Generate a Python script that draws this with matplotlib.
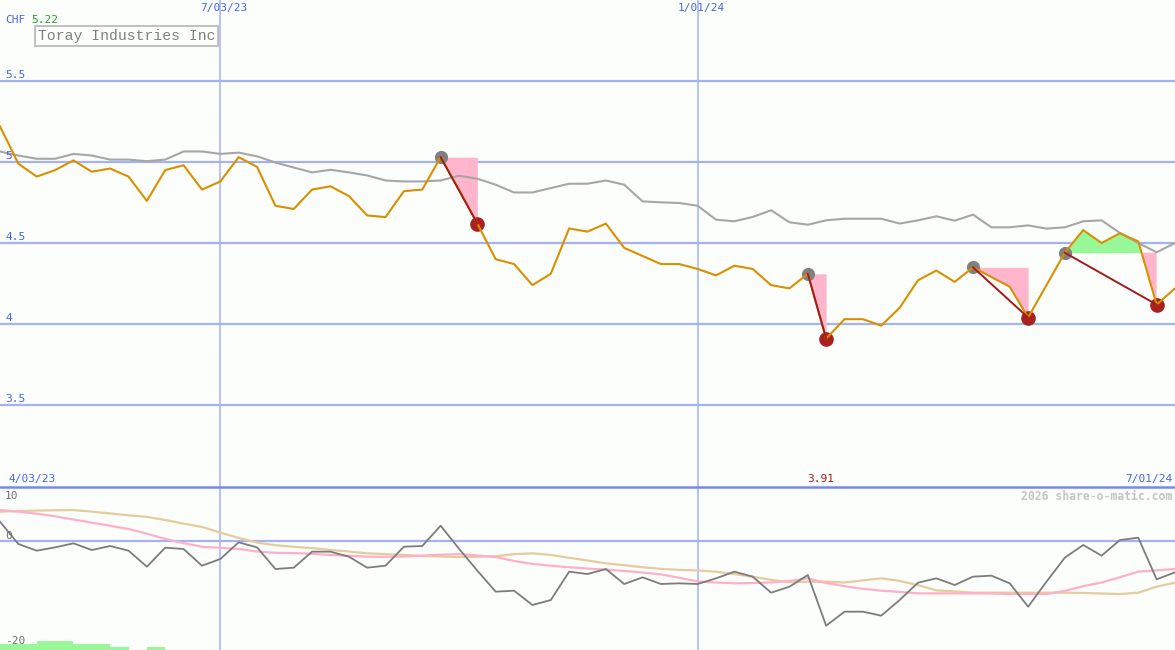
import matplotlib
matplotlib.use("Agg")
import matplotlib.pyplot as plt
from matplotlib.lines import Line2D
import numpy as np
import pandas as pd

W, H = 1175, 650

# weekly closes, Toray Industries (CHF)
dates = pd.date_range("2023-04-10", periods=65, freq="7D")
price = [5.22, 4.99, 4.91, 4.95, 5.01, 4.94, 4.96, 4.91, 4.76, 4.95,
         4.98, 4.83, 4.88, 5.03, 4.97, 4.73, 4.71, 4.83, 4.85, 4.79,
         4.67, 4.66, 4.82, 4.83, 5.03, 4.83, 4.62, 4.40, 4.37, 4.24,
         4.31, 4.59, 4.57, 4.62, 4.47, 4.42, 4.37, 4.37, 4.34, 4.30,
         4.36, 4.34, 4.24, 4.22, 4.31, 3.91, 4.03, 4.03, 3.99, 4.10,
         4.27, 4.33, 4.26, 4.35, 4.29, 4.23, 4.04, 4.24, 4.44, 4.58,
         4.50, 4.56, 4.51, 4.12, 4.22]
avg = [5.065, 5.04, 5.02, 5.02, 5.05, 5.04, 5.015, 5.015, 5.005, 5.015,
       5.065, 5.065, 5.05, 5.058, 5.035, 4.997, 4.966, 4.936, 4.952, 4.936,
       4.917, 4.886, 4.88, 4.88, 4.886, 4.915, 4.897, 4.86, 4.812, 4.812,
       4.839, 4.866, 4.866, 4.886, 4.86, 4.757, 4.751, 4.747, 4.73, 4.644,
       4.634, 4.661, 4.702, 4.628, 4.613, 4.64, 4.65, 4.65, 4.65, 4.62,
       4.64, 4.665, 4.638, 4.675, 4.597, 4.597, 4.609, 4.589, 4.597, 4.634,
       4.64, 4.562, 4.50, 4.443, 4.50]
osc = [3.68, -0.57, -1.84, -1.21, -0.44, -1.71, -0.95, -1.84, -4.89, -1.27,
       -1.52, -4.70, -3.43, -0.25, -1.21, -5.33, -5.08, -2.03, -2.03, -2.98,
       -5.08, -4.70, -1.08, -0.95, 2.92, -1.46, -5.65, -9.65, -9.46, -12.19,
       -11.24, -5.84, -6.29, -5.33, -8.19, -6.92, -8.19, -8.06, -8.19, -7.11,
       -5.84, -6.79, -9.84, -8.70, -6.48, -16.13, -13.46, -13.46, -14.22, -11.24,
       -7.94, -7.11, -8.38, -6.79, -6.60, -8.06, -12.51, -7.75, -3.17, -0.76,
       -2.79, 0.19, 0.63, -7.30, -5.97]
osc_fast = [5.9, 5.6, 5.2, 4.7, 4.1, 3.5, 2.9, 2.3, 1.4, 0.4,
            -0.4, -1.1, -1.3, -1.5, -2.0, -2.25, -2.3, -2.45, -2.65, -2.8,
            -2.98, -3.0, -2.95, -2.8, -2.6, -2.5, -2.75, -3.05, -3.8, -4.35,
            -4.7, -5.0, -5.25, -5.45, -5.7, -6.0, -6.35, -7.0, -7.7, -7.9,
            -8.06, -8.0, -7.9, -7.6, -7.1, -8.0, -8.6, -9.1, -9.45, -9.7,
            -9.97, -9.97, -9.97, -9.97, -10.0, -10.1, -10.1, -10.1, -9.5, -8.6,
            -7.9, -6.9, -5.84, -5.6, -5.33]
osc_slow = [5.6, 5.7, 5.8, 5.85, 5.9, 5.6, 5.25, 4.9, 4.6, 4.0,
            3.3, 2.7, 1.6, 0.6, -0.3, -0.8, -1.1, -1.35, -1.7, -2.0,
            -2.35, -2.5, -2.65, -2.85, -2.95, -3.05, -3.0, -2.9, -2.5, -2.35,
            -2.65, -3.2, -3.7, -4.25, -4.6, -5.0, -5.3, -5.5, -5.6, -5.85,
            -6.3, -6.8, -7.4, -7.85, -7.75, -7.75, -7.9, -7.5, -7.1, -7.6,
            -8.4, -9.4, -9.6, -9.84, -9.84, -9.84, -9.84, -9.84, -9.84, -9.9,
            -10.0, -10.1, -9.84, -8.7, -7.94]
vol = [1.14, 1.14, 1.71, 1.71, 1.14, 1.14, 0.57, 0.0, 0.57]
peaks = [24, 44, 53, 58]
troughs = [26, 45, 56, 63]
vdates = ["2023-07-03", "2024-01-01"]
vlabels = ["7/03/23", "1/01/24"]
price_ticks = [5.5, 5.0, 4.5, 4.0, 3.5]

BG = "#fcfefc"
GRID = "#a4b2f2"
BLUE = "#4a64e8"
MONO = ["DejaVu Sans Mono"]


def px(x, y):
    return x / W, 1 - y / H


fig = plt.figure(figsize=(W / 100, H / 100), dpi=100, facecolor=BG)
ax = fig.add_axes([0, 163 / H, 1, 487 / H])
ax2 = fig.add_axes([0, 0, 1, 163 / H])
for a in (ax, ax2):
    a.set_facecolor(BG)
    a.set_axis_off()
    a.set_xlim(dates[0], dates[-1])
    for d in vdates:
        a.axvline(pd.Timestamp(d), color=GRID, lw=1.1, zorder=1)

# price panel
ax.set_ylim(2.994, 6.0)
for v in price_ticks:
    ax.axhline(v, color=GRID, lw=1.6, zorder=1)
p = np.array(price)
for a_i, b_i in zip(peaks, troughs):
    lvl = p[a_i]
    seg = p[a_i:b_i + 1]
    dd = dates[a_i:b_i + 1]
    ax.fill_between(dd, seg, lvl, where=seg <= lvl, interpolate=True,
                    color="#ffb6cc", lw=0, zorder=2)
    ax.fill_between(dd, seg, lvl, where=seg >= lvl, interpolate=True,
                    color="#98f898", lw=0, zorder=2)
ax.plot(dates, avg, color="#a6a6a6", lw=1.5, zorder=3)
ax.plot(dates[peaks], p[peaks], "o", color="#808080", ms=8.5, zorder=4)
ax.plot(dates[troughs], p[troughs], "o", color="#a82020", ms=9.5, zorder=4)
ax.plot(dates, price, color="#d89000", lw=1.5, zorder=5)
for a_i, b_i in zip(peaks, troughs):
    ax.plot([dates[a_i], dates[b_i]], [p[a_i], p[b_i]], color="#a01c1c",
            lw=1.4, zorder=5)

# oscillator panel
ax2.set_ylim(-20.76, 10.29)
ax2.axhline(0, color=GRID, lw=1.6, zorder=1)
ax2.bar(dates[:len(vol)], vol, width=7, align="edge", bottom=-20.76,
        color="#98f898", lw=0, zorder=2)
ax2.plot(dates, osc_slow, color="#e4cc9c", lw=1.6, zorder=3)
ax2.plot(dates, osc_fast, color="#ffb0c8", lw=1.6, zorder=3)
ax2.plot(dates, osc, color="#7c7c7c", lw=1.3, zorder=4)

fig.add_artist(Line2D([0, 1], [1 - 487 / H] * 2, color="#7888ee", lw=1.8))

# texts
fs = 8
fig.text(*px(5, 20), "CHF", color=BLUE, fontsize=fs, family=MONO, va="center")
fig.text(*px(31, 20), f"{price[0]:.2f}", color="#20a020", fontsize=fs,
         family=MONO, va="center")
fig.text(*px(38, 36), "Toray Industries Inc", color="#808080", fontsize=10.6,
         family=["Liberation Mono", "DejaVu Sans Mono"], va="center",
         bbox=dict(boxstyle="square,pad=0.18", fc=BG, ec="#c0c0c0", lw=1.4))
for d, lab in zip(vdates, vlabels):
    xd = ax.transData.transform((matplotlib.dates.date2num(pd.Timestamp(d)), 0))[0]
    fig.text(*px(xd + 4, 8), lab, color=BLUE, fontsize=fs,
             family=MONO, va="center", ha="center")
for v in price_ticks:
    yd = ax.transData.transform((0, v))[1]
    fig.text(5 / W, yd / H + 6 / H, f"{v:g}", color=BLUE,
             fontsize=fs, family=MONO, va="center")
fig.text(*px(8, 479), "4/03/23", color=BLUE, fontsize=fs, family=MONO, va="center")
fig.text(*px(1172, 479), "7/01/24", color=BLUE, fontsize=fs, family=MONO,
         va="center", ha="right")
lo = int(np.argmin(price))
xlo = ax.transData.transform((matplotlib.dates.date2num(dates[lo]), 0))[0]
fig.text(*px(xlo - 5, 479), f"{price[lo]:.2f}", color="#a01c1c", fontsize=fs,
         family=MONO, va="center", ha="center")
fig.text(*px(5, 496), "10", color="#707070", fontsize=fs, family=MONO, va="center")
fig.text(*px(5, 536), "0", color="#707070", fontsize=fs, family=MONO, va="center")
fig.text(*px(5, 641), "-20", color="#707070", fontsize=fs, family=MONO,
         va="center")
fig.text(*px(1172, 496), "2026 share-o-matic.com", color="#c4c4c4",
         fontsize=8.3, family=MONO, va="center", ha="right", weight="bold")

fig.savefig("out.png", dpi=100, facecolor=BG)
plt.close(fig)
